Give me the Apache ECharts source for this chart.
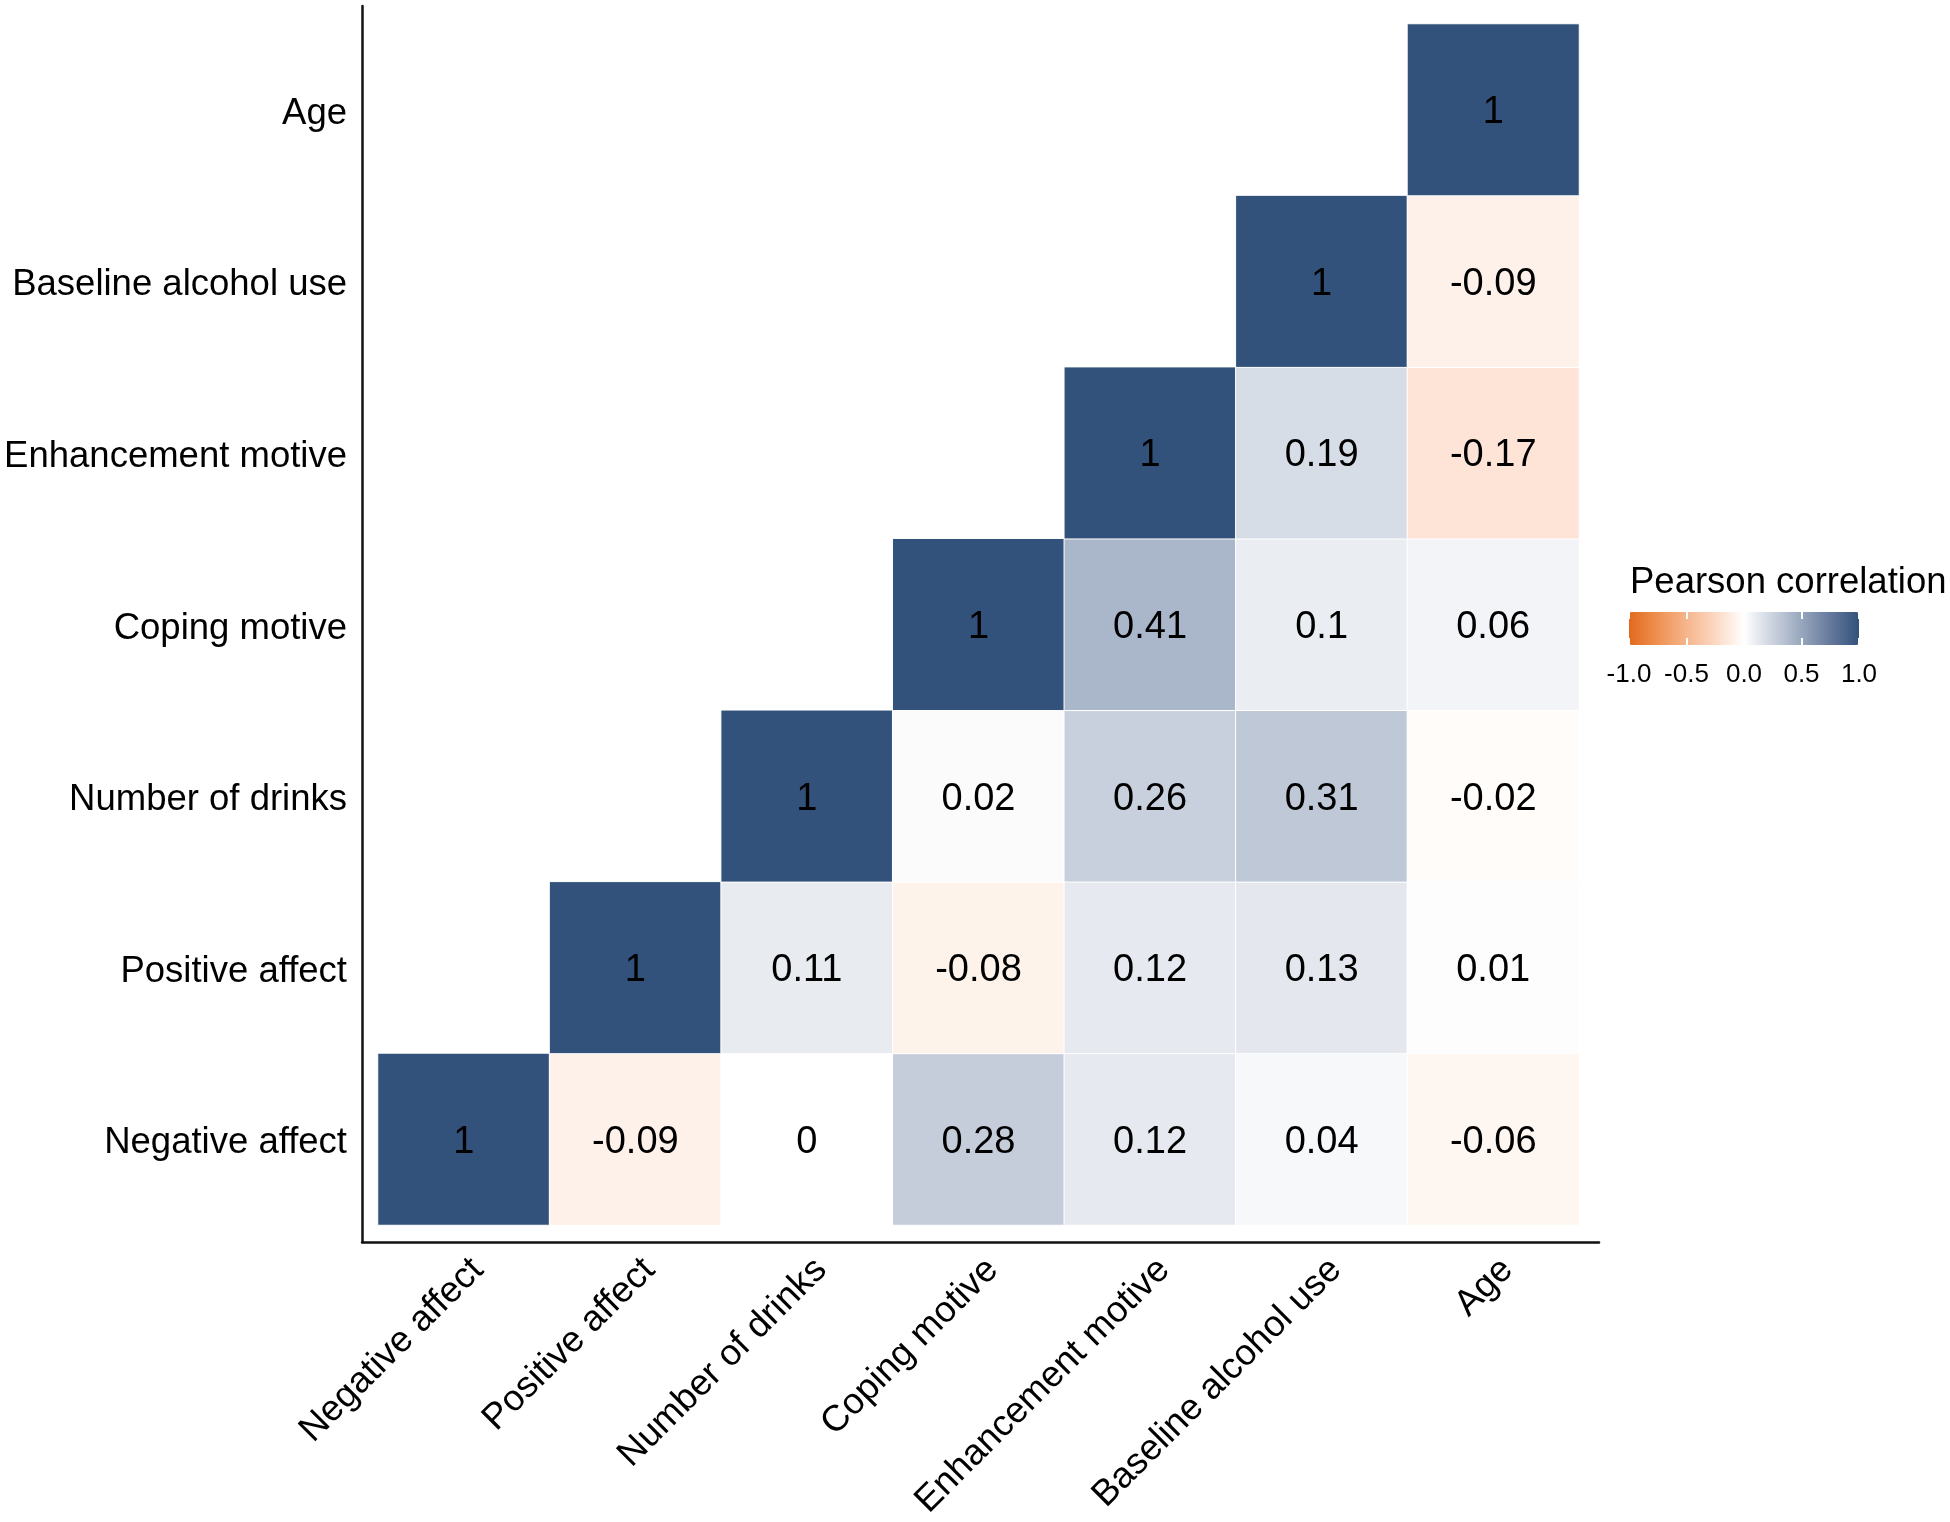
<!DOCTYPE html>
<html>
<head>
<meta charset="utf-8">
<script src="https://cdn.jsdelivr.net/npm/echarts@6/dist/echarts.min.js"></script>
<style>
html,body{margin:0;padding:0;background:#fff;}
#chart{width:1950px;height:1522px;}
</style>
</head>
<body>
<div id="chart"></div>
<script>
// Variables (bottom-to-top on y, left-to-right on x)
const categories = ['Negative affect','Positive affect','Number of drinks','Coping motive','Enhancement motive','Baseline alcohol use','Age'];
// Correlation rows: row i holds correlations of categories[i] with categories[0..6]; null = not shown
const rowNegativeAffect   = [1, -0.09, 0, 0.28, 0.12, 0.04, -0.06];
const rowPositiveAffect   = [null, 1, 0.11, -0.08, 0.12, 0.13, 0.01];
const rowNumberOfDrinks   = [null, null, 1, 0.02, 0.26, 0.31, -0.02];
const rowCopingMotive     = [null, null, null, 1, 0.41, 0.1, 0.06];
const rowEnhancement      = [null, null, null, null, 1, 0.19, -0.17];
const rowBaselineAlcohol  = [null, null, null, null, null, 1, -0.09];
const rowAge              = [null, null, null, null, null, null, 1];
const legendTitle = 'Pearson correlation';
const legendTicks = [-1, -0.5, 0, 0.5, 1];

const rows = [rowNegativeAffect,rowPositiveAffect,rowNumberOfDrinks,rowCopingMotive,rowEnhancement,rowBaselineAlcohol,rowAge];
const heatData = [];
rows.forEach((r, yi) => r.forEach((v, xi) => { if (v !== null) heatData.push([xi, yi, v]); }));

const FONT = 'Arial, "Liberation Sans", sans-serif';
const chart = echarts.init(document.getElementById('chart'));
const option = {
  backgroundColor: '#fff',
  animation: false,
  textStyle: { fontFamily: FONT },
  title: {
    text: legendTitle, left: 1625, top: 559,
    textStyle: { fontFamily: FONT, fontSize: 36.5, fontWeight: 'normal', color: '#000' }
  },
  grid: [
    { left: 378, top: 24, width: 1201, height: 1201 },  // tiles
    { left: 362, top: 6, width: 1237, height: 1236 },   // axis lines
    { left: 392, top: 24, width: 1201, height: 1201 },  // x labels
    { left: 1629, top: 612, width: 230, height: 33 }    // legend ticks
  ],
  xAxis: [
    { type: 'category', gridIndex: 0, data: categories, axisLine: {show:false}, axisTick:{show:false}, axisLabel:{show:false}, splitLine:{show:false} },
    { type: 'value', gridIndex: 1, min: 0, max: 1, axisLine: {show:true, onZero:false, lineStyle:{color:'#111', width:2.5}}, axisTick:{show:false}, axisLabel:{show:false}, splitLine:{show:false} },
    { type: 'category', gridIndex: 2, data: categories, axisLine: {show:false}, axisTick:{show:false}, splitLine:{show:false},
      axisLabel: { rotate: 45, margin: 53, fontSize: 36.5, color: '#000', fontFamily: FONT, interval: 0 } },
    { type: 'value', gridIndex: 3, min: -1, max: 1, interval: 0.5, z: 10,
      axisLine: {show:false}, splitLine:{show:false},
      axisTick: { show: true, inside: true, length: 7, lineStyle: { color: '#fff', width: 2 } },
      axisLabel: { margin: 17, fontSize: 26, color: '#000', fontFamily: FONT, formatter: v => v.toFixed(1) } },
    { type: 'value', gridIndex: 3, position: 'top', min: -1, max: 1, interval: 0.5, z: 10,
      axisLine: {show:false}, splitLine:{show:false}, axisLabel:{show:false},
      axisTick: { show: true, inside: true, length: 7, lineStyle: { color: '#fff', width: 2 } } }
  ],
  yAxis: [
    { type: 'category', gridIndex: 0, data: categories, axisLine: {show:false}, axisTick:{show:false}, splitLine:{show:false},
      axisLabel: { margin: 31, fontSize: 36.5, color: '#000', fontFamily: FONT,
        formatter: v => '{a|' + v + '}',
        rich: { a: { fontSize: 36.5, color: '#000', fontFamily: FONT, padding: [8, 0, 0, 0] } } } },
    { type: 'value', gridIndex: 1, min: 0, max: 1, axisLine: {show:true, onZero:false, lineStyle:{color:'#111', width:2.5}}, axisTick:{show:false}, axisLabel:{show:false}, splitLine:{show:false} },
    { type: 'category', gridIndex: 2, data: categories, show: false },
    { type: 'value', gridIndex: 3, show: false, min: 0, max: 1 }
  ],
  visualMap: {
    type: 'continuous', min: -1, max: 1, seriesIndex: 0, dimension: 2,
    orient: 'horizontal', left: 1629, top: 612, itemWidth: 33, itemHeight: 230,
    padding: 0, calculable: false, text: null, showLabel: false, hoverLink: false, z: 5,
    inRange: { color: ['#E2691F', '#EE9152', '#F6B58C', '#FCD8C2', '#ffffff', '#CBD2DE', '#98A7BD', '#65799C', '#32527B'] }
  },
  series: [{
    type: 'heatmap', xAxisIndex: 0, yAxisIndex: 0, data: heatData,
    itemStyle: { borderColor: '#fff', borderWidth: 1 },
    label: { show: true, fontSize: 38, color: '#000', fontFamily: FONT, offset: [0, 3], formatter: p => String(p.value[2]) },
    emphasis: { disabled: true }
  }]
};
chart.setOption(option);
</script>
</body>
</html>
